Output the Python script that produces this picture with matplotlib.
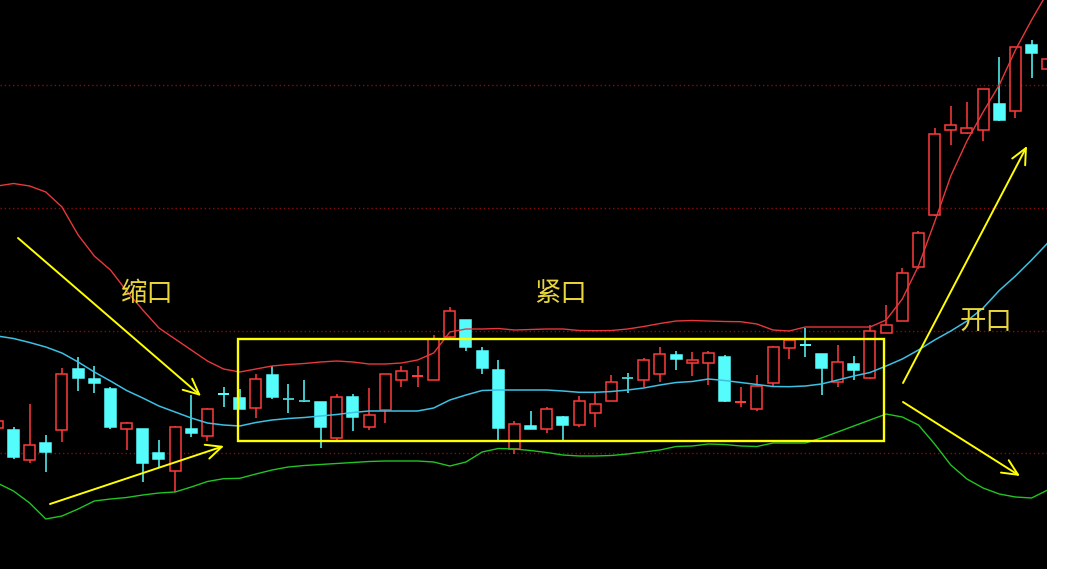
import matplotlib
matplotlib.use("Agg")
import matplotlib.pyplot as plt
import numpy as np
from matplotlib.patches import Rectangle

# candle index -1 is the one cut off at the left edge, 64 at the right edge
idx = np.arange(-1, 65)

opens = [141, 139, 109, 126, 139, 200, 190, 180, 140, 140, 116, 98, 140, 133, 176, 171,
         161, 194, 171, 169, 167, 131, 172, 142, 159, 189, 192, 189, 232, 249, 218, 199,
         120, 143, 140, 152, 144, 156, 168, 192, 189, 195, 214, 206, 206, 212, 166, 160,
         186, 221, 225, 215, 187, 205, 191, 236, 248, 302, 354, 439, 436, 439, 465, 458,
         524, 500]
highs = [151, 142, 165, 134, 201, 212, 203, 182, 147, 140, 129, 143, 174, 161, 182, 180,
         195, 203, 185, 189, 167, 175, 175, 181, 195, 203, 203, 234, 262, 249, 222, 209,
         148, 158, 162, 153, 173, 177, 194, 196, 211, 222, 218, 217, 218, 214, 182, 194,
         223, 231, 241, 215, 224, 213, 244, 264, 301, 338, 441, 463, 467, 480, 512, 522,
         529, 510]
lows = [139, 110, 106, 97, 127, 178, 176, 140, 119, 87, 102, 77, 132, 128, 162, 160,
        151, 170, 156, 167, 121, 129, 138, 139, 146, 182, 182, 189, 229, 218, 195, 129,
        115, 140, 136, 129, 142, 142, 168, 176, 182, 187, 199, 193, 184, 167, 162, 158,
        182, 210, 212, 174, 182, 189, 190, 236, 248, 300, 353, 424, 435, 428, 448, 451,
        491, 500]
closes = [148, 112, 124, 117, 195, 191, 186, 142, 146, 106, 110, 142, 136, 160, 174, 160,
          190, 172, 170, 168, 142, 172, 152, 154, 195, 198, 194, 230, 258, 222, 201, 141,
          145, 140, 160, 144, 168, 165, 187, 191, 209, 215, 210, 209, 216, 168, 168, 183,
          222, 229, 223, 201, 207, 199, 238, 244, 296, 336, 435, 444, 441, 480, 449, 522,
          516, 510]

# Bollinger bands
boll_up = [383, 385.5, 383, 377, 362, 334, 313, 299, 278, 259, 241, 230, 219, 208, 200, 197,
           200, 203, 204.5, 205.5, 207, 208, 207, 205, 205, 206, 209, 216, 237, 240, 240, 240.5,
           239, 239.5, 240, 240, 238.5, 238.3, 238.5, 240, 242.5, 245.5, 248, 248.5, 248, 247.5,
           247.3, 245, 239, 238, 242, 242, 242, 242, 242, 249, 270, 303, 347, 393, 428, 457,
           484, 519, 549, 577]
boll_mid = [233, 230.5, 226.5, 222, 216, 207, 197, 188, 178.5, 171, 163, 157, 151, 146, 144, 143,
            146.5, 149, 150.5, 151.5, 153, 154.5, 156.5, 158, 158, 158, 158, 161, 169, 174, 178.5, 179,
            179, 179, 179, 178, 176.7, 176.7, 177.5, 179, 181, 184, 186.5, 187.5, 190, 188.5, 186.5,
            184.5, 182.5, 182.3, 183, 185, 189, 193, 196.5, 203, 210, 219, 229, 238, 248, 261,
            278.5, 293, 309, 326]
boll_low = [86, 78, 66, 50, 53, 60, 68, 70, 71.5, 74, 76, 77, 82, 87.5, 90.3, 90.7,
            95, 99, 102, 103.5, 104.5, 105.5, 106.5, 107.5, 108, 108, 108, 107, 103, 107, 117, 120.5,
            120, 118.5, 116.5, 114, 113, 113, 113.5, 115, 117, 119, 122.5, 123, 125, 124.5, 123,
            122.5, 126, 126, 126, 131, 137, 143, 149, 155, 152, 144, 125, 104, 90, 81,
            75, 72, 71, 79]

grid_levels = [116, 238, 361, 484]

labels = ["缩口", "紧口", "开口"]

RED = "#ff3b3b"
CYAN = "#55fcfc"
MID = "#3cc0e4"
UPC = "#e8383c"
GREEN = "#22c422"
YEL = "#ffff00"
TXT = "#e8d63c"

fig = plt.figure(figsize=(10.8, 5.69), dpi=100, facecolor="white")
ax = fig.add_axes([0, 0, 1047 / 1080, 1])
ax.set_facecolor("black")
ax.set_xlim(-13.5 / 16.16, (1047 - 13.5) / 16.16)
ax.set_ylim(0, 569)
ax.set_xticks([])
ax.set_yticks([])
for s in ax.spines.values():
    s.set_visible(False)

for g in grid_levels:
    ax.axhline(g, color="#8a0c0c", lw=1.0, ls=(0, (1, 2)), zorder=1)

w = 0.68
for x, o, h, l, c in zip(idx, opens, highs, lows, closes):
    up = c >= o
    col = RED if up else CYAN
    top, bot = max(o, c), min(o, c)
    ax.vlines(x, top, h, color=col, lw=1.1, zorder=3)
    ax.vlines(x, l, bot, color=col, lw=1.1, zorder=3)
    if top - bot < 2.5:
        ax.hlines((top + bot) / 2, x - w / 2, x + w / 2, color=col,
                  lw=max(1.1, (top - bot) * 0.72), zorder=3)
    else:
        ax.add_patch(Rectangle((x - w / 2, bot), w, top - bot,
                               facecolor="black" if up else col, edgecolor=col,
                               lw=1.1, zorder=3))

ax.plot(idx, boll_up, color=UPC, lw=1.0, zorder=4)
ax.plot(idx, boll_mid, color=MID, lw=1.1, zorder=4)
ax.plot(idx, boll_low, color=GREEN, lw=1.0, zorder=4)

# annotation layer in pixel coordinates
ov = fig.add_axes([0, 0, 1, 1], facecolor="none")
ov.set_xlim(0, 1080)
ov.set_ylim(569, 0)
ov.set_axis_off()

ov.add_patch(Rectangle((237.5, 338.5), 884 - 237.5, 441 - 338.5, fill=False,
                       edgecolor=YEL, lw=1.7, zorder=6))

arrows = [((18, 238), (201, 396)), ((50, 504), (224, 446)),
          ((903, 383), (1027, 146)), ((903, 402), (1020, 476))]
for (x0, y0), (x1, y1) in arrows:
    ov.annotate("", xy=(x1, y1), xytext=(x0, y0),
                arrowprops=dict(arrowstyle="->,head_length=0.75,head_width=0.35",
                                color=YEL, lw=1.4, shrinkA=0, shrinkB=0,
                                mutation_scale=15), zorder=6)

for txt, (tx, ty) in zip(labels, [(147, 293), (561, 293), (986, 321)]):
    ov.text(tx, ty, txt, color=TXT, fontsize=19, ha="center", va="center",
            family=["Noto Sans CJK SC", "DejaVu Sans"], zorder=7)

fig.savefig("out.png", dpi=100, facecolor="white")
